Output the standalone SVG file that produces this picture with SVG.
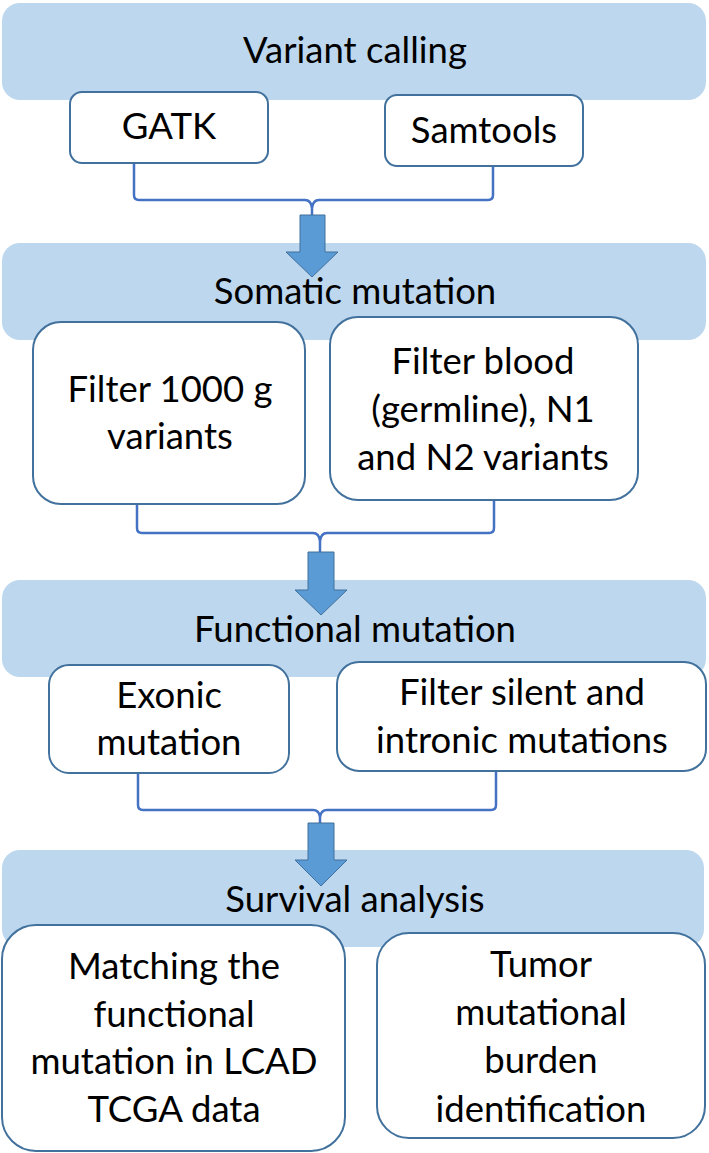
<svg xmlns="http://www.w3.org/2000/svg" width="709" height="1153" viewBox="0 0 709 1153">
<style>
.band{fill:#BDD7EE;stroke:none}
.box{fill:#FFFFFF;stroke:#41719C;stroke-width:2}
.t{font-family:Lato,"Open Sans","Liberation Sans",sans-serif;font-size:36.5px;fill:#000;text-anchor:middle}
.con{fill:none;stroke:#4472C4;stroke-width:2.5;stroke-linejoin:round}
.arr{fill:#5B9BD5;stroke:#41719C;stroke-width:1}
</style>
<rect width="709" height="1153" fill="#FFFFFF"/>
<g id="band-variant-calling"><rect class="band" x="2" y="3" width="704" height="97" rx="18"/><text class="t" x="355" y="63">Variant calling</text></g>
<g id="band-somatic-mutation"><rect class="band" x="2" y="243" width="704" height="97" rx="18"/><text class="t" x="355" y="304">Somatic mutation</text></g>
<g id="band-functional-mutation"><rect class="band" x="2" y="580" width="704" height="97" rx="18"/><text class="t" x="355" y="642">Functional mutation</text></g>
<g id="band-survival-analysis"><rect class="band" x="2" y="850" width="702" height="97" rx="18"/><text class="t" x="355" y="912">Survival analysis</text></g>
<g id="connectors">
<path class="con" d="M134,163 V195 Q134,200 139,200 H305 Q311,200 312,208 V215 M493,165 V195 Q493,200 488,200 H319 Q313,200 312,208"/>
<path class="con" d="M137,498 V528 Q137,533 142,533 H313 Q319,533 320,541 V552 M494,497 V528 Q494,533 489,533 H327 Q321,533 320,541"/>
<path class="con" d="M138,773 V805 Q138,810 143,810 H313 Q319,810 320,817 V823 M496,771 V805 Q496,810 491,810 H327 Q321,810 320,817"/>
<polygon class="arr" points="300,215 325,215 325,252 338,252 312,277 286,252 300,252"/>
<polygon class="arr" points="308,552 334,552 334,590 347,590 321,615 295,590 308,590"/>
<polygon class="arr" points="308,823 334,823 334,860 347,860 321,886 295,860 308,860"/>
</g>
<g id="node-gatk"><rect class="box" x="70" y="92" width="198" height="71" rx="12"/><text class="t" x="169" y="139">GATK</text></g>
<g id="node-samtools"><rect class="box" x="385" y="95" width="198" height="71" rx="12"/><text class="t" x="484" y="143">Samtools</text></g>
<g id="node-filter-1000g"><rect class="box" x="33" y="322" width="272" height="182" rx="28"/><text class="t" x="170" y="402">Filter 1000 g</text><text class="t" x="170" y="449">variants</text></g>
<g id="node-filter-blood"><rect class="box" x="330" y="317" width="308" height="183" rx="28"/><text class="t" x="483" y="374">Filter blood</text><text class="t" x="483" y="422">(germline), N1</text><text class="t" x="483" y="470">and N2 variants</text></g>
<g id="node-exonic"><rect class="box" x="49" y="665" width="240" height="108" rx="20"/><text class="t" x="169" y="708">Exonic</text><text class="t" x="169" y="755">mutation</text></g>
<g id="node-filter-silent"><rect class="box" x="337" y="662" width="369" height="109" rx="22"/><text class="t" x="522" y="705">Filter silent and</text><text class="t" x="522" y="753">intronic mutations</text></g>
<g id="node-matching"><rect class="box" x="2" y="925" width="343" height="226" rx="34"/><text class="t" x="174" y="979">Matching the</text><text class="t" x="174" y="1027">functional</text><text class="t" x="174" y="1074">mutation in LCAD</text><text class="t" x="174" y="1122">TCGA data</text></g>
<g id="node-tumor"><rect class="box" x="377" y="933" width="328" height="205" rx="32"/><text class="t" x="541" y="977">Tumor</text><text class="t" x="541" y="1025">mutational</text><text class="t" x="541" y="1073">burden</text><text class="t" x="541" y="1122">identification</text></g>
</svg>
